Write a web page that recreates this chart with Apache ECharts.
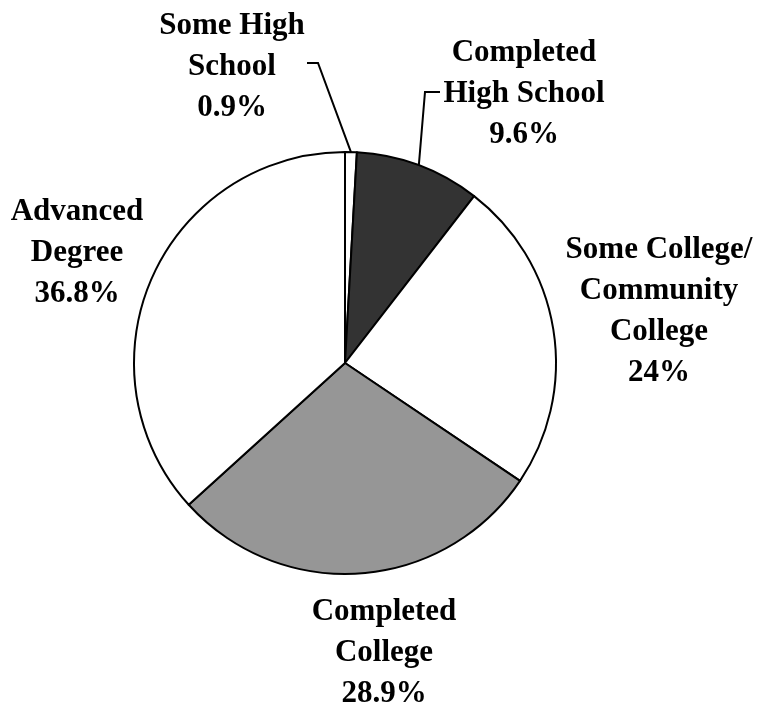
<!DOCTYPE html>
<html>
<head>
<meta charset="utf-8">
<script src="https://cdn.jsdelivr.net/npm/echarts@6/dist/echarts.min.js"></script>
<style>
  html, body { margin: 0; padding: 0; background: #fff; }
  #chart { width: 760px; height: 709px; }
</style>
</head>
<body>
<div id="chart"></div>
<script>
// education levels, clockwise from 12 o'clock
var categories = [
  "Some High\nSchool",
  "Completed\nHigh School",
  "Some College/\nCommunity\nCollege",
  "Completed\nCollege",
  "Advanced\nDegree"
];
var shares = [0.9, 9.6, 24, 28.9, 36.8];
var sliceColors = ["#ffffff", "#333333", "#ffffff", "#969696", "#ffffff"];

// hand placed label blocks (centre of text) like the original
var labelSpots = [
  { x: 232, y: 67 },
  { x: 524, y: 94 },
  { x: 659, y: 311 },
  { x: 384, y: 653 },
  { x: 77, y: 253 }
];
// elbow lines for the two thin slices: [knee, end]
var leaderLines = {
  0: [[318, 63], [307, 63]],
  1: [[425, 92], [440, 92]]
};

var cx = 345, cy = 363, r = 211;
var total = shares.reduce(function (a, b) { return a + b; }, 0);

function edgePoint(idx) {
  var before = 0;
  for (var i = 0; i < idx; i++) before += shares[i];
  var mid = (before + shares[idx] / 2) / total * Math.PI * 2;
  return [cx + r * Math.sin(mid), cy - r * Math.cos(mid)];
}

var chart = echarts.init(document.getElementById("chart"));
chart.setOption({
  animation: false,
  backgroundColor: "#ffffff",
  series: [
    {
      type: "pie",
      center: [cx, cy],
      radius: r,
      startAngle: 90,
      clockwise: true,
      avoidLabelOverlap: false,
      emphasis: { disabled: true },
      itemStyle: { borderColor: "#000", borderWidth: 2 },
      label: {
        show: true,
        position: "outside",
        formatter: function (p) { return p.name + "\n" + p.value + "%"; },
        fontFamily: "Liberation Serif",
        fontWeight: "bold",
        fontSize: 31,
        lineHeight: 41,
        color: "#000",
        align: "center"
      },
      labelLine: {
        show: true,
        lineStyle: { color: "#000", width: 2 }
      },
      labelLayout: function (params) {
        var i = params.dataIndex;
        var out = {
          x: labelSpots[i].x,
          y: labelSpots[i].y,
          align: "center",
          verticalAlign: "middle"
        };
        if (leaderLines[i]) {
          out.labelLinePoints = [edgePoint(i)].concat(leaderLines[i]);
        }
        return out;
      },
      data: categories.map(function (name, i) {
        return {
          name: name,
          value: shares[i],
          itemStyle: { color: sliceColors[i] },
          labelLine: { show: !!leaderLines[i] }
        };
      })
    }
  ]
});
</script>
</body>
</html>
